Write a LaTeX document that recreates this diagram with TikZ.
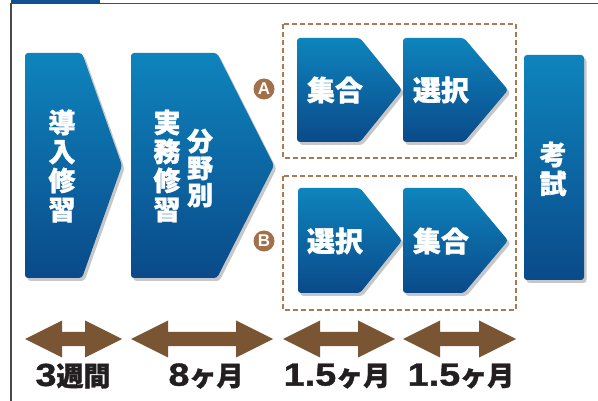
\documentclass[tikz,border=0pt]{standalone}
\usepackage{fontspec}
\newfontfamily\jp{Noto Sans CJK JP}[BoldFeatures={FakeBold=1.2}]
\newfontfamily\lat{Liberation Sans}
\newfontfamily\latw{Liberation Sans}[FakeStretch=1.18, BoldFeatures={FakeBold=1.2}]
\usetikzlibrary{shadows}
\definecolor{bluetop}{HTML}{0E84BC}
\definecolor{bluebot}{HTML}{0A4A8A}
\definecolor{tabblue}{HTML}{11508E}
\definecolor{framegray}{HTML}{4A4A4A}
\definecolor{arrbrown}{HTML}{7A5533}
\definecolor{dashbrown}{HTML}{A67C58}
\definecolor{circbrown}{HTML}{A2704A}
\definecolor{labelblack}{HTML}{231F20}
\tikzset{
  bluebox/.style={top color=bluetop, bottom color=bluebot, draw=none,
    rounded corners=3pt,
    drop shadow={shadow xshift=2.5pt, shadow yshift=-3pt, opacity=0.22, fill=black}},
  vtext/.style={text=white, inner sep=0pt, align=center, font=\jp\bfseries\fontsize{27}{29}\selectfont},
  htext/.style={text=white, inner sep=0pt, font=\jp\bfseries\fontsize{28}{29}\selectfont},
  dashbox/.style={draw=dashbrown, line width=1.5pt, dash pattern=on 5pt off 3pt},
  badge/.style={circle, fill=circbrown, minimum size=21pt, inner sep=0pt, text=white,
    font=\lat\bfseries\fontsize{17}{17}\selectfont},
  durlabel/.style={text=labelblack, inner sep=0pt, font=\jp\bfseries\fontsize{27}{29}\selectfont},
  durarrow/.style={fill=arrbrown, draw=none}
}
\newcommand{\mychev}[5]{% left, top, corner x, tip x, bottom
  \path[bluebox] (#1,#2) -- (#3,#2) -- (#4,{(#2+#5)/2}) -- (#3,#5) -- (#1,#5) -- cycle;}
\newcommand{\mydbl}[2]{%
  \path[durarrow] (#1,339) -- ({#1+37},320.5) -- ({#1+37},332) -- ({#2-37},332) -- ({#2-37},320.5)
     -- (#2,339) -- ({#2-37},357.5) -- ({#2-37},346) -- ({#1+37},346) -- ({#1+37},357.5) -- cycle;}
\newcommand{\dg}[1]{{\latw\bfseries\fontsize{32}{32}\selectfont #1}}
\begin{document}
\begin{tikzpicture}[x=1pt,y=-1pt]
\useasboundingbox (0,0) rectangle (598,401);
\fill[white] (0,0) rectangle (598,401);
% frame
\fill[tabblue] (11,0) rectangle (100,4.2);
\draw[framegray, line width=1.3pt] (100,3.6) -- (598,3.6);
\draw[framegray, line width=1.3pt] (11,3) -- (11,401);
% big chevrons
\mychev{25}{53}{82}{122}{278}
\mychev{131}{53}{217}{274}{278}
% exam box
\path[bluebox] (524,55) rectangle (584,280);
% dashed groups
\draw[dashbox] (283,24) rectangle (516,158);
\draw[dashbox] (283,176) rectangle (516,310);
% small chevrons
\mychev{297}{38}{360}{402}{142}
\mychev{403}{38}{464}{508}{142}
\mychev{298}{188}{360}{402}{293}
\mychev{403}{188}{464}{508}{293}
% texts
\node[vtext] (intro) at (62,166) {導\\入\\修\\習};
\node[vtext] (jitsumu) at (167,166) {実\\務\\修\\習};
\node[vtext, font=\jp\bfseries\fontsize{26}{27}\selectfont] (bunya) at (200,168) {分\\野\\別};
\node[vtext] (exam) at (553,169) {考\\試};
\node[htext] (a1) at (335,90) {集合};
\node[htext] (a2) at (441,90) {選択};
\node[htext] (b1) at (335,241) {選択};
\node[htext] (b2) at (441,241) {集合};
% badges
\node[badge] (ba) at (264,89) {A};
\node[badge] (bb) at (264,241) {B};
% duration arrows
\mydbl{25}{122}
\mydbl{131}{273}
\mydbl{283}{395}
\mydbl{403}{516}
\node[durlabel] (d1) at (73,376) {\dg{3}週間};
\node[durlabel] (d2) at (206,376) {\dg{8}ヶ月};
\node[durlabel] (d3) at (337,376) {\dg{1.5}ヶ月};
\node[durlabel] (d4) at (461,376) {\dg{1.5}ヶ月};
\end{tikzpicture}
\end{document}
